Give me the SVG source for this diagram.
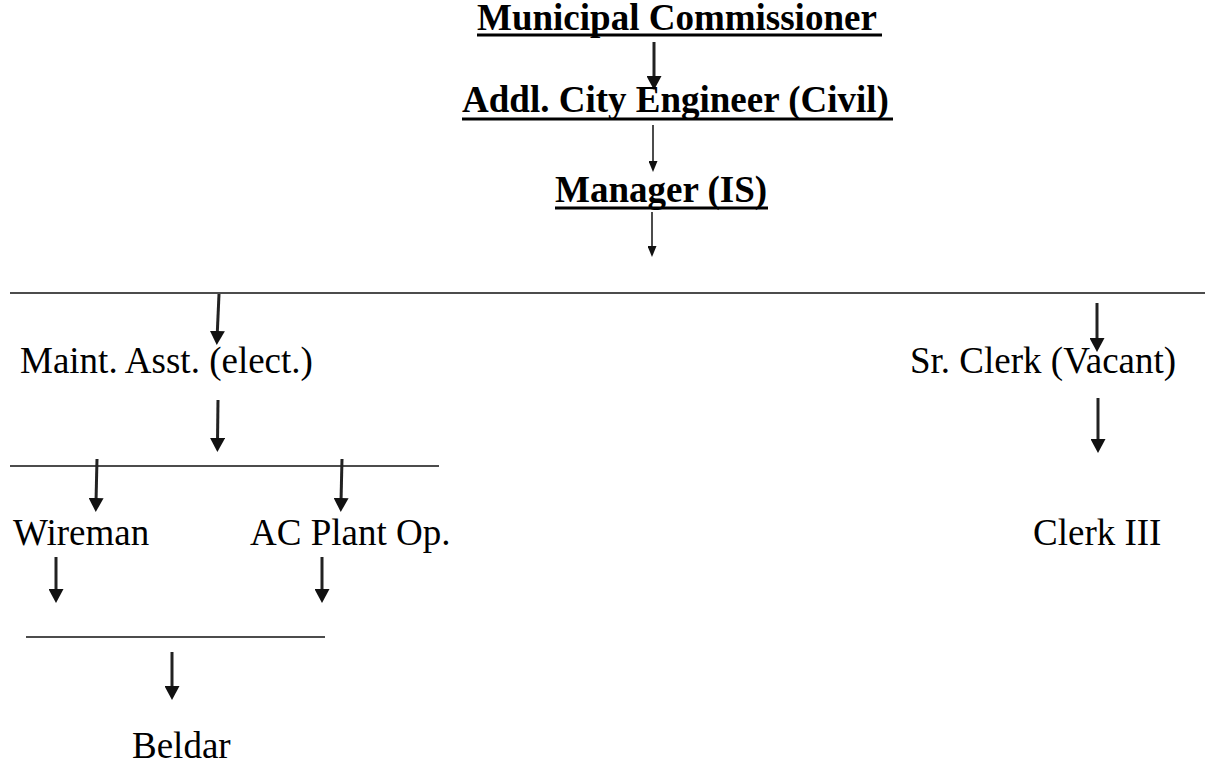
<svg xmlns="http://www.w3.org/2000/svg" width="1208" height="770" viewBox="0 0 1208 770">
<style>
.t{font-family:"Liberation Serif","Times New Roman",serif;font-size:37px;fill:#000}
.b{font-weight:bold}
.ul{stroke:#000;stroke-width:3}
.hl{stroke:#111;stroke-width:1.5}
.ab{stroke:#222;stroke-width:3;fill:none;marker-end:url(#hb)}
.as{stroke:#111;stroke-width:1.5;fill:none;marker-end:url(#hs)}
</style>
<defs>
<marker id="hb" markerUnits="userSpaceOnUse" viewBox="0 0 14 15" markerWidth="14" markerHeight="15" refX="4" refY="7.5" orient="auto">
<path d="M0,0 L14,7.5 L0,15 z" fill="#111"/>
</marker>
<marker id="hs" markerUnits="userSpaceOnUse" viewBox="0 0 11 9" markerWidth="11" markerHeight="9" refX="3" refY="4.5" orient="auto">
<path d="M0,0 L11,4.5 L0,9 z" fill="#111"/>
</marker>
</defs>
<rect width="1208" height="770" fill="#fff"/>
<g id="connectors">
<line class="ab" x1="654" y1="42" x2="654" y2="80"/>
<line class="as" x1="653" y1="125" x2="653" y2="164"/>
<line class="as" x1="652" y1="212" x2="652" y2="249"/>
<line class="hl" x1="10" y1="293" x2="1205" y2="293"/>
<line class="ab" x1="219" y1="294" x2="217.2" y2="335"/>
<line class="ab" x1="1097" y1="303" x2="1097" y2="342"/>
<line class="ab" x1="218" y1="400" x2="217.5" y2="442"/>
<line class="ab" x1="1098" y1="398" x2="1098" y2="443"/>
<line class="hl" x1="10" y1="466" x2="439" y2="466"/>
<line class="ab" x1="97" y1="459" x2="96" y2="502"/>
<line class="ab" x1="342" y1="459" x2="341" y2="502"/>
<line class="ab" x1="56" y1="557" x2="56" y2="593"/>
<line class="ab" x1="322" y1="557" x2="322" y2="593"/>
<line class="hl" x1="26" y1="637" x2="325" y2="637"/>
<line class="ab" x1="172" y1="652" x2="172" y2="690"/>
</g>
<g id="municipal-commissioner">
<text class="t b" x="477" y="30">Municipal Commissioner</text>
<line class="ul" x1="477" y1="35" x2="882" y2="35"/>
</g>
<g id="addl-city-engineer">
<text class="t b" x="462" y="112">Addl. City Engineer (Civil)</text>
<line class="ul" x1="462" y1="119" x2="893" y2="119"/>
</g>
<g id="manager-is">
<text class="t b" x="555" y="202">Manager (IS)</text>
<line class="ul" x1="555" y1="208" x2="768" y2="208"/>
</g>
<g id="maint-asst"><text class="t" x="20" y="373">Maint. Asst. (elect.)</text></g>
<g id="sr-clerk"><text class="t" x="910" y="373">Sr. Clerk (Vacant)</text></g>
<g id="wireman"><text class="t" x="13" y="545">Wireman</text></g>
<g id="ac-plant-op"><text class="t" x="250" y="545">AC Plant Op.</text></g>
<g id="clerk-iii"><text class="t" x="1033" y="545">Clerk III</text></g>
<g id="beldar"><text class="t" x="132" y="758">Beldar</text></g>
</svg>
